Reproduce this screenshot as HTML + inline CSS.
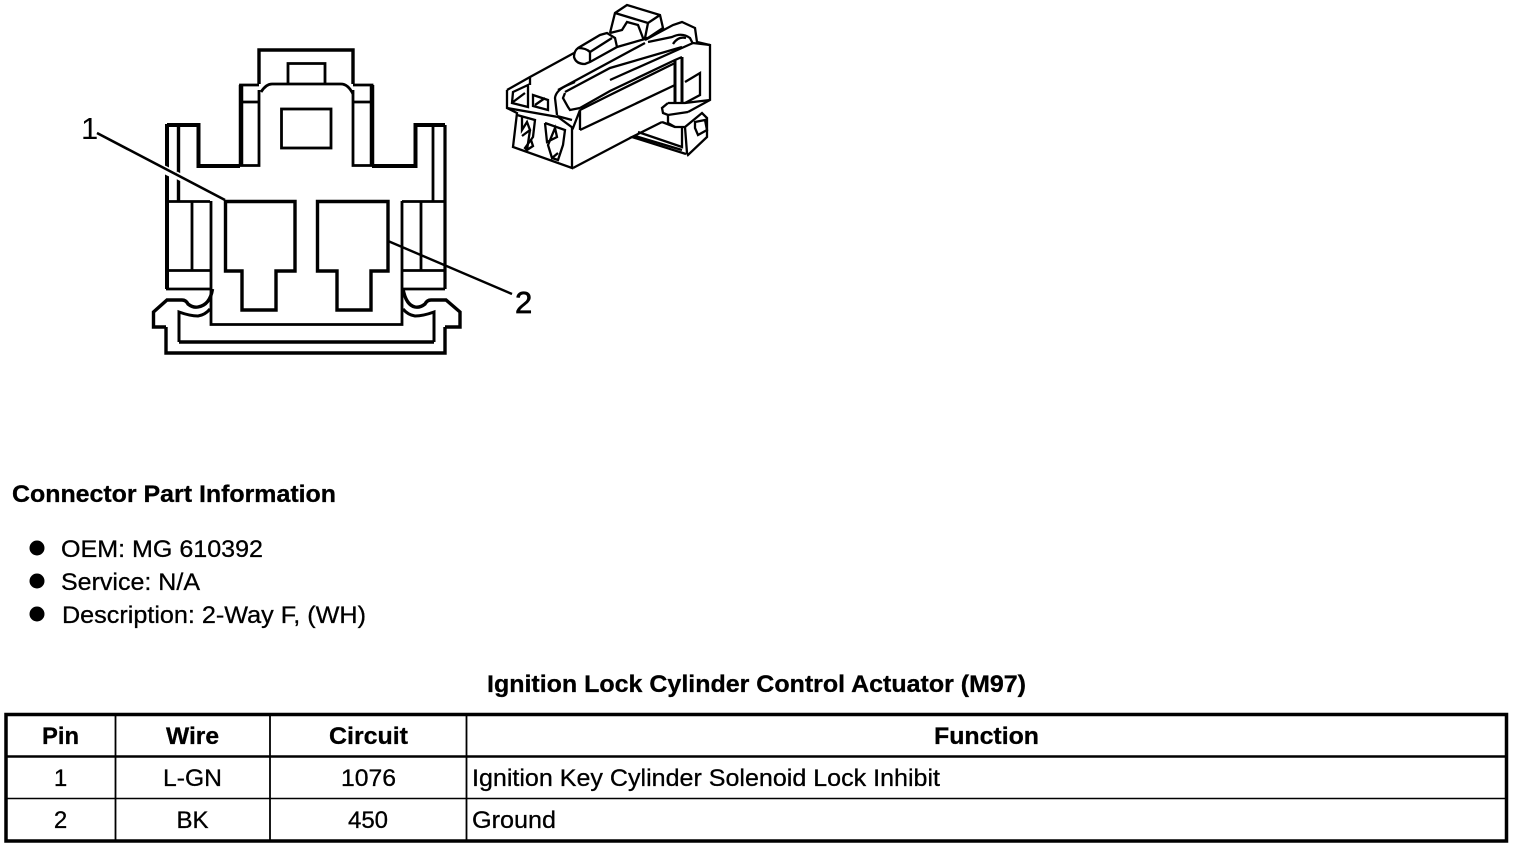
<!DOCTYPE html>
<html><head><meta charset="utf-8"><style>
html,body{margin:0;padding:0;background:#fff;width:1520px;height:848px;overflow:hidden}
svg{display:block}
text{font-family:"Liberation Sans",sans-serif;font-size:24px;fill:#000}
.b{font-weight:bold;stroke:#000;stroke-width:.3}
.r{stroke:#000;stroke-width:.3}
.m{text-anchor:middle}
.l{fill:none;stroke:#000;stroke-linejoin:miter}
</style></head><body>
<svg width="1520" height="848" viewBox="0 0 1520 848" xmlns="http://www.w3.org/2000/svg">
<rect width="1520" height="848" fill="#fff"/>

<!-- Front view connector -->
<g class="l" stroke-width="2.800">
<path d="M259,84V50H353V84" stroke-width="3.400"/>
<path d="M288,84V63.500H325V84"/>
<path d="M261,92Q266,84 272,84H341Q348,84 353,94" stroke-width="2.800"/>
<path d="M259,90V165.500H240.500V85H259" />
<path d="M241,85V165" stroke-width="4.500"/>
<path d="M259,102H241"/>
<path d="M353,90V165.500H372V85H353"/>
<path d="M372,85V165" stroke-width="4.500"/>
<path d="M353,102H372"/>
<rect x="281.500" y="109" width="49.500" height="39"/>
<path d="M240,166H198.500V125H167" stroke-width="4"/>
<path d="M372,166H415.500V125H445" stroke-width="4"/>
<path d="M167,124V289" stroke-width="4"/>
<path d="M178.500,125V201" stroke-width="3.400"/>
<path d="M433,125V201" stroke-width="2.800"/>
<path d="M445,125V289" stroke-width="3.200"/>
<path d="M166,201.500H210M166,270.500H210M192,201V270"/>
<path d="M402,201.500H445M402,270.500H445M421,201V270"/>
<path d="M166,289H212" stroke-width="2.800"/>
<path d="M402,289H445" stroke-width="2.800"/>
<path d="M211,201V324.500H402V201" stroke-width="2.800"/>
<path d="M225.500,201.500H295V271H276V310H242V271H225.500Z" stroke-width="3.400"/>
<path d="M317.500,201.500H388V271H371V310H337V271H317.500Z" stroke-width="3.400"/>
<path d="M166,327H153.500V312L167,300H182Q186,300 188,304Q193,308 198,307Q210,305 212.500,289" stroke-width="3.400"/>
<path d="M445,327H460V312L446,300H431Q427,300 425,304Q420,308 415,307Q406,305 403,289" stroke-width="3.400"/>
<path d="M179,342V312Q190,316 198,316Q205,315 210,309" stroke-width="3"/>
<path d="M434,342V312Q423,316 415,316Q408,315 403,309" stroke-width="3"/>
<path d="M166,327V353H445V327" stroke-width="3.400"/>
<path d="M179,342H434" stroke-width="3.400"/>
</g>
<!-- leader lines -->
<path class="l" stroke-width="2.400" d="M388,241L512,294"/>
<rect x="163" y="167" width="8" height="8" fill="#fff" transform="rotate(27 167 171)"/>
<rect x="175" y="173" width="8" height="7" fill="#fff" transform="rotate(27 179 177)"/>
<path class="l" stroke-width="2.600" d="M97,133L225,200"/>
<text x="81" y="139" style="font-size:31px;stroke-width:.7">1</text>
<text x="515" y="313" style="font-size:31px;stroke:#000;stroke-width:.7">2</text>

<!-- 3D connector, traced in page px -->
<g class="l" stroke-width="2.300">
<!-- top edge and nub -->
<path d="M507,90L530,77L574,53"/>
<path d="M578,48L600,35L607,33L615,38L617,47L590,62L585,64Q576,64 574,57Q574,51 578,48Q586,48 590,52L590,62"/>
<path d="M590,52L612,38"/>
<!-- top tab -->
<path d="M610,33L615,13L627,5L660,15L663,28L648,38L643,38L638,25L627,22L622,30L610,33"/>
<path d="M615,13L648,23L660,15M648,23L645,38"/>
<path d="M617,47L645,39"/>
<!-- right loop -->
<path d="M645,40L673,25L682,22L695,28L697,42L710,45V100L688,112"/>
<path d="M648,42L672,37Q682,32 690,38L693,44"/>
<path d="M673,44Q678,36 686,38"/>
<!-- rails -->
<path d="M558,90L645,43"/>
<path d="M565,92L610,68L682,47"/>
<path d="M580,108L610,91L675,60L682,57"/>
<path d="M580,110L610,95L675,63"/>
<path d="M610,80L693,43L710,45"/>
<!-- slot / window -->
<path d="M675,60V103M682,57V103" stroke-width="3"/>
<path d="M685,82L700,73V95L685,103"/>
<!-- latch -->
<path d="M668,103H685L710,100M668,103L662,108L663,113L668,115L688,112"/>
<path d="M668,115V123L675,127H685L702,113L707,118V137L688,155L687,153L685,127"/>
<path d="M695,122L705,120L707,130L698,135L695,128Z"/>
<!-- tray -->
<path d="M662,122L632,137L686,154"/>
<path d="M638,132L682,147V128M635,136L682,150M662,122L675,127"/>
<!-- panel lower edges -->
<path d="M580,130L675,85"/>
<path d="M573,168L632,137"/>
<!-- left end -->
<path d="M507,90V108L517,113L513,147L572,168V128"/>
<path d="M507,108L558,117L573,128L580,110V130"/>
<path d="M513,92L528,85V107L512,103Z M513,102L525,93"/>
<path d="M530,77V85"/>
<path d="M533,95L548,100V110L533,106Z M535,105L545,98"/>
<!-- hook -->
<path d="M557,115L555,98Q556,90 568,85L575,82"/>
<path d="M565,93L563,98L568,107L570,110L580,108"/>
<path d="M557,116L572,120"/>
<path d="M580,108L710,45" stroke-width="0"/>
<!-- pin 1 -->
<path d="M517,115L535,120L533,137L525,148L527,150"/>
<path d="M522,116L522,130L527,122L530,130L522,136M530,130L527,150L533,146L531,140"/>
<!-- pin 2 -->
<path d="M545,123L565,130L563,145L558,160L552,158"/>
<path d="M545,123L547,142L557,137L555,128L548,145L552,158L558,153"/>
</g>

<!-- Text -->
<text class="b" x="12" y="502" textLength="324" lengthAdjust="spacingAndGlyphs">Connector Part Information</text>
<circle cx="37" cy="548" r="7.500"/><circle cx="37" cy="581" r="7.500"/><circle cx="37" cy="614" r="7.500"/>
<text class="r" x="61" y="557" textLength="202" lengthAdjust="spacingAndGlyphs">OEM: MG 610392</text>
<text class="r" x="61" y="590" textLength="139" lengthAdjust="spacingAndGlyphs">Service: N/A</text>
<text class="r" x="62" y="623" textLength="304" lengthAdjust="spacingAndGlyphs">Description: 2-Way F, (WH)</text>
<text class="b" x="487" y="692" textLength="539" lengthAdjust="spacingAndGlyphs">Ignition Lock Cylinder Control Actuator (M97)</text>

<!-- Table -->
<rect x="6" y="714.500" width="1500.500" height="126.500" fill="none" stroke="#000" stroke-width="3.500"/>
<path d="M6,756.500H1506" stroke="#000" stroke-width="2.500"/>
<path d="M6,798.500H1506" stroke="#000" stroke-width="1.500"/>
<path d="M115.500,714V841M270,714V841M466.500,714V841" stroke="#000" stroke-width="1.800"/>
<text class="b" x="42" y="744" textLength="37" lengthAdjust="spacingAndGlyphs">Pin</text>
<text class="b" x="166" y="744" textLength="53" lengthAdjust="spacingAndGlyphs">Wire</text>
<text class="b" x="329" y="744" textLength="79" lengthAdjust="spacingAndGlyphs">Circuit</text>
<text class="b" x="934" y="744" textLength="105" lengthAdjust="spacingAndGlyphs">Function</text>
<text class="r m" x="60.500" y="786">1</text>
<text class="r" x="163" y="786" textLength="59" lengthAdjust="spacingAndGlyphs">L-GN</text>
<text class="r" x="341" y="786" textLength="55" lengthAdjust="spacingAndGlyphs">1076</text>
<text class="r" x="472" y="786" textLength="468" lengthAdjust="spacingAndGlyphs">Ignition Key Cylinder Solenoid Lock Inhibit</text>
<text class="r m" x="60.500" y="828">2</text>
<text class="r m" x="192.500" y="828">BK</text>
<text class="r m" x="368" y="828">450</text>
<text class="r" x="472" y="828" textLength="84" lengthAdjust="spacingAndGlyphs">Ground</text>
</svg>
</body></html>
